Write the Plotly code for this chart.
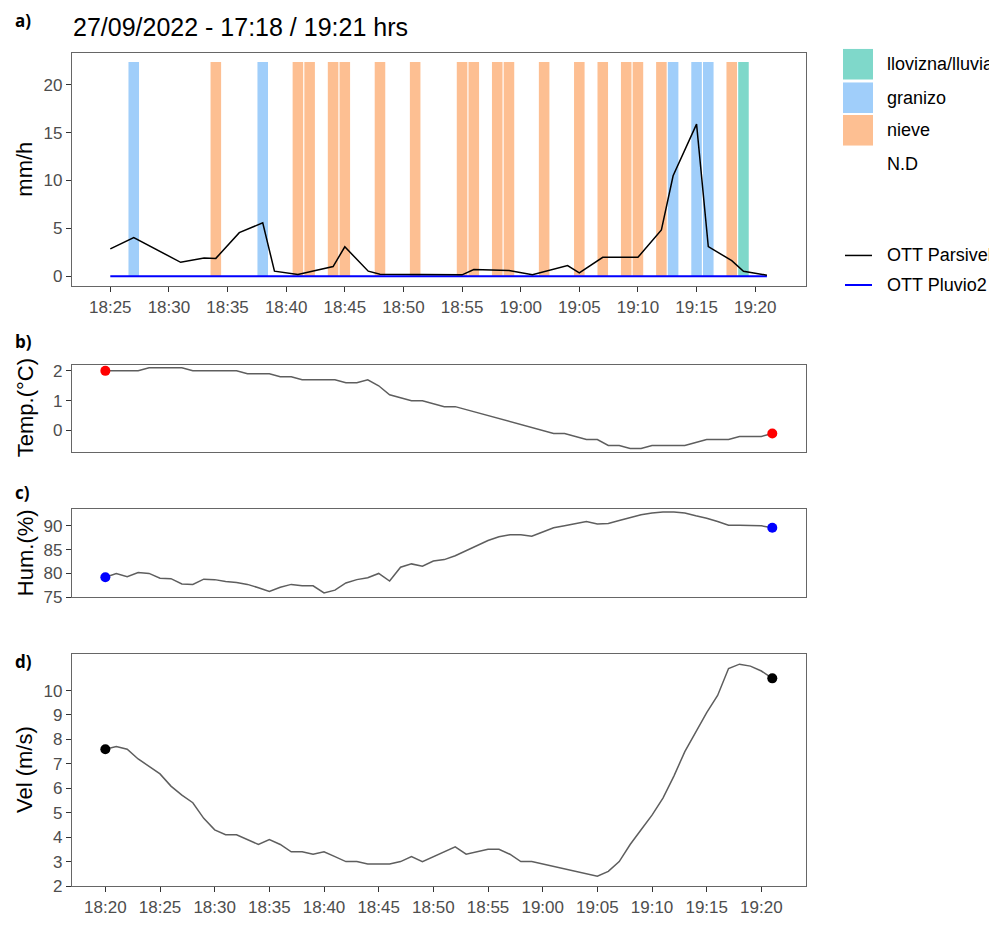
import plotly.graph_objects as go
from datetime import datetime, timedelta

PAGE_W, PAGE_H = 997, 925
OFF = 8  # default page body margin in the browser
W, H = PAGE_W - OFF, PAGE_H - 2 * OFF
DAY = "2022-09-27"

# ---------------- DATA ----------------
# Panel a) precipitation intensity (mm/h)
parsivel_time = ["18:25", "18:27", "18:31", "18:33", "18:34", "18:36", "18:38", "18:39",
                 "18:41", "18:44", "18:45", "18:47", "18:48", "18:55", "18:56", "18:59",
                 "19:01", "19:04", "19:05", "19:07", "19:10", "19:12", "19:13", "19:15",
                 "19:16", "19:18", "19:19", "19:21"]
parsivel_mmh = [2.86, 4.03, 1.45, 1.9, 1.86, 4.55, 5.58, 0.52,
                0.18, 1.0, 3.07, 0.52, 0.2, 0.14, 0.69, 0.59,
                0.14, 1.1, 0.34, 1.97, 1.97, 4.83, 10.5, 15.9,
                3.1, 1.62, 0.52, 0.1]
pluvio2_time = ["18:25", "19:21"]
pluvio2_mmh = [0.0, 0.0]

# Hydrometeor class per minute (background bars)
bar_time = ["18:27", "18:34", "18:38", "18:41", "18:42", "18:44", "18:45", "18:48",
            "18:51", "18:55", "18:56", "18:58", "18:59", "19:02", "19:05", "19:07",
            "19:09", "19:10", "19:12", "19:13", "19:15", "19:16", "19:18", "19:19"]
bar_class = ["granizo", "nieve", "granizo", "nieve", "nieve", "nieve", "nieve", "nieve",
             "nieve", "nieve", "nieve", "nieve", "nieve", "nieve", "nieve", "nieve",
             "nieve", "nieve", "nieve", "granizo", "granizo", "granizo", "nieve",
             "llovizna/lluvia"]
bar_top = 22.4
class_names = ["llovizna/lluvia", "granizo", "nieve", "N.D"]
class_colors = ["#7FD8CA", "#A0CEFA", "#FDBF92", "rgba(255,255,255,0)"]

# Panels b-d: minutes after 18:20
temp_min = [0, 1, 2, 3, 4, 5, 6, 7, 8, 9, 10, 11, 12, 13, 14, 15, 16, 17, 18, 19, 20,
            21, 22, 23, 24, 25, 26, 27, 28, 29, 30, 31, 32,
            41, 42, 43, 44, 45, 46, 47, 48, 49, 50, 51, 52, 53, 54, 55, 56, 57, 58, 59, 60, 61]
temp_c = [2.0, 2.0, 2.0, 2.0, 2.1, 2.1, 2.1, 2.1, 2.0, 2.0, 2.0, 2.0, 2.0, 1.9, 1.9, 1.9,
          1.8, 1.8, 1.7, 1.7, 1.7, 1.7, 1.6, 1.6, 1.7, 1.5, 1.2, 1.1, 1.0, 1.0, 0.9, 0.8, 0.8,
          -0.1, -0.1, -0.2, -0.3, -0.3, -0.5, -0.5, -0.6, -0.6, -0.5, -0.5, -0.5, -0.5,
          -0.4, -0.3, -0.3, -0.3, -0.2, -0.2, -0.2, -0.1]

hum_min = [0, 1, 2, 3, 4, 5, 6, 7, 8, 9, 10, 11, 12, 13, 14, 15, 16, 17, 18, 19, 20,
           21, 22, 23, 24, 25, 26, 27, 28, 29, 30, 31, 32, 33, 34, 35, 36, 37, 38, 39, 40,
           41, 42, 43, 44, 45, 46, 47, 48, 49, 50, 51, 52, 53, 54, 55, 56, 57, 58, 59, 60, 61]
hum_pct = [79.2, 80.0, 79.3, 80.2, 80.0, 79.0, 78.9, 77.8, 77.7, 78.8, 78.7, 78.3, 78.1,
           77.7, 77.0, 76.2, 77.1, 77.7, 77.4, 77.4, 75.9, 76.5, 78.0, 78.7, 79.1, 80.0,
           78.4, 81.3, 82.0, 81.5, 82.6, 82.9, 83.7, 84.8, 85.8, 86.9, 87.7, 88.1, 88.1,
           87.8, 88.7, 89.6, 90.0, 90.5, 90.9, 90.4, 90.5, 91.1, 91.7, 92.3, 92.7, 92.9,
           92.9, 92.7, 92.1, 91.6, 90.9, 90.1, 90.1, 90.1, 90.0, 89.6]

wind_min = [0, 1, 2, 3, 4, 5, 6, 7, 8, 9, 10, 11, 12, 13, 14, 15, 16, 17, 18, 19, 20,
            21, 22, 23, 24, 25, 26, 27, 28, 29, 30, 31, 32, 33, 34, 35, 36, 37, 38, 39,
            45, 46, 47, 48, 49, 50, 51, 52, 53, 54, 55, 56, 57, 58, 59, 60, 61]
wind_ms = [7.6, 7.71, 7.6, 7.2, 6.9, 6.59, 6.09, 5.72, 5.41, 4.77, 4.3, 4.1, 4.1, 3.9,
           3.7, 3.9, 3.7, 3.4, 3.4, 3.3, 3.4, 3.2, 3.0, 3.0, 2.9, 2.9, 2.9, 3.0, 3.2, 3.0,
           3.2, 3.4, 3.6, 3.3, 3.4, 3.5, 3.5, 3.3, 3.0, 3.0,
           2.4, 2.6, 3.0, 3.7, 4.3, 4.9, 5.6, 6.5, 7.5, 8.3, 9.1, 9.8, 10.9, 11.08, 11.0,
           10.8, 10.5]

title_text = "27/09/2022 - 17:18 / 19:21 hrs"
# --------------------------------------

base = datetime(2022, 9, 27, 18, 20)


def hm(s):
    return f"{DAY} {s}:00"


def mins(lst):
    return [base + timedelta(minutes=m) for m in lst]


def px(x):
    return (x - OFF) / W


def py(y):
    return 1 - (y - OFF) / H


FONT = "Liberation Sans, Arial, sans-serif"
TICKC = "#4D4D4D"
BORDER = "#666666"

fig = go.Figure()

# Panel a bars
for name, col in zip(class_names, class_colors):
    xs = [hm(t) for t, c in zip(bar_time, bar_class) if c == name]
    if not xs:
        continue
    fig.add_trace(go.Bar(x=xs, y=[bar_top] * len(xs), width=54000,
                         marker=dict(color=col, line=dict(width=0)),
                         name=name, showlegend=False, xaxis="x", yaxis="y",
                         hoverinfo="x+name"))

fig.add_trace(go.Scatter(x=[hm(t) for t in pluvio2_time], y=pluvio2_mmh, mode="lines",
                         line=dict(color="#0000FF", width=2), name="OTT Pluvio2",
                         showlegend=False, xaxis="x", yaxis="y"))
fig.add_trace(go.Scatter(x=[hm(t) for t in parsivel_time], y=parsivel_mmh, mode="lines",
                         line=dict(color="black", width=1.5), name="OTT Parsivel",
                         showlegend=False, xaxis="x", yaxis="y"))

GREY_LINE = "#5E5E5E"
panels = [
    (temp_min, temp_c, "red", "x2", "y2"),
    (hum_min, hum_pct, "#0000FF", "x3", "y3"),
    (wind_min, wind_ms, "black", "x4", "y4"),
]
for mlist, vals, dotc, xa, ya in panels:
    t = mins(mlist)
    fig.add_trace(go.Scatter(x=t, y=vals, mode="lines",
                             line=dict(color=GREY_LINE, width=1.5),
                             showlegend=False, xaxis=xa, yaxis=ya))
    fig.add_trace(go.Scatter(x=[t[0], t[-1]], y=[vals[0], vals[-1]], mode="markers",
                             marker=dict(color=dotc, size=10),
                             showlegend=False, xaxis=xa, yaxis=ya))

xdom = [px(72), px(806)]
common_axis = dict(showline=True, linecolor=BORDER, linewidth=1.2, mirror=True,
                   showgrid=False, zeroline=False, ticks="outside", ticklen=5,
                   tickcolor="#333333", tickwidth=1,
                   tickfont=dict(family=FONT, size=17, color=TICKC))

range_a = [f"{DAY} 18:21:44", f"{DAY} 19:24:20"]
range_b = [f"{DAY} 18:16:57", f"{DAY} 19:24:05"]

xcommon = dict(common_axis, type="date", tickformat="%H:%M", dtick=300000,
               tick0=f"{DAY} 18:20:00")

layout = dict(
    width=W, height=H, margin=dict(l=0, r=0, t=0, b=0),
    paper_bgcolor="white", plot_bgcolor="white", barmode="overlay",
    font=dict(family=FONT),
    xaxis=dict(xcommon, domain=xdom, range=range_a, anchor="y"),
    yaxis=dict(common_axis, domain=[py(287), py(51)], range=[-1.03, 23.3],
               tickvals=[0, 5, 10, 15, 20], anchor="x"),
    xaxis2=dict(xcommon, domain=xdom, range=range_b, anchor="y2",
                showticklabels=False, ticks=""),
    yaxis2=dict(common_axis, domain=[py(455.7), py(366.7)], range=[-0.73, 2.21],
                tickvals=[0, 1, 2], anchor="x2"),
    xaxis3=dict(xcommon, domain=xdom, range=range_b, anchor="y3",
                showticklabels=False, ticks=""),
    yaxis3=dict(common_axis, domain=[py(603), py(513)], range=[74.95, 93.57],
                tickvals=[75, 80, 85, 90], anchor="x3"),
    xaxis4=dict(xcommon, domain=xdom, range=range_b, anchor="y4"),
    yaxis4=dict(common_axis, domain=[py(895.7), py(660)], range=[2, 11.51],
                tickvals=[2, 3, 4, 5, 6, 7, 8, 9, 10], anchor="x4"),
)
fig.update_layout(**layout)

ann = []
shapes = []
# Title and panel labels
ann.append(dict(text=title_text, x=px(71), y=py(24), xref="paper", yref="paper",
                xanchor="left", yanchor="middle", showarrow=False,
                font=dict(family=FONT, size=25, color="black")))
for lab, yy in [("a)", 18), ("b)", 343), ("c)", 496), ("d)", 668)]:
    ann.append(dict(text=f"<b>{lab}</b>", x=px(13), y=py(yy), xref="paper", yref="paper",
                    xanchor="left", yanchor="middle", showarrow=False,
                    font=dict(family="Open Sans, sans-serif", size=17, color="black")))
# Axis titles
for lab, yc in [("mm/h", 169), ("Temp.(°C)", 411), ("Hum.(%)", 558), ("Vel (m/s)", 778)]:
    ann.append(dict(text=lab, x=px(25), y=py(yc), xref="paper", yref="paper",
                    xanchor="center", yanchor="middle", textangle=-90, showarrow=False,
                    font=dict(family=FONT, size=22, color="black")))

# Legend (manual)
leg_rows = [62, 96, 129, 163]
for name, col, yc in zip(class_names, class_colors, leg_rows):
    if not col.startswith("rgba"):
        shapes.append(dict(type="rect", xref="paper", yref="paper",
                           x0=px(843), x1=px(873), y0=py(yc - 15.5), y1=py(yc + 15.5),
                           fillcolor=col, line=dict(width=0)))
    ann.append(dict(text=name, x=px(885), y=py(yc), xref="paper", yref="paper",
                    xanchor="left", yanchor="middle", showarrow=False,
                    font=dict(family=FONT, size=18, color="black")))
for name, col, wdt, yc in [("OTT Parsivel", "black", 1.5, 256), ("OTT Pluvio2", "#0000FF", 2, 286)]:
    shapes.append(dict(type="line", xref="paper", yref="paper",
                       x0=px(845), x1=px(872), y0=py(yc), y1=py(yc),
                       line=dict(color=col, width=wdt)))
    ann.append(dict(text=name, x=px(885), y=py(yc), xref="paper", yref="paper",
                    xanchor="left", yanchor="middle", showarrow=False,
                    font=dict(family=FONT, size=18, color="black")))

fig.update_layout(annotations=ann, shapes=shapes)
fig.write_html("out.html")
